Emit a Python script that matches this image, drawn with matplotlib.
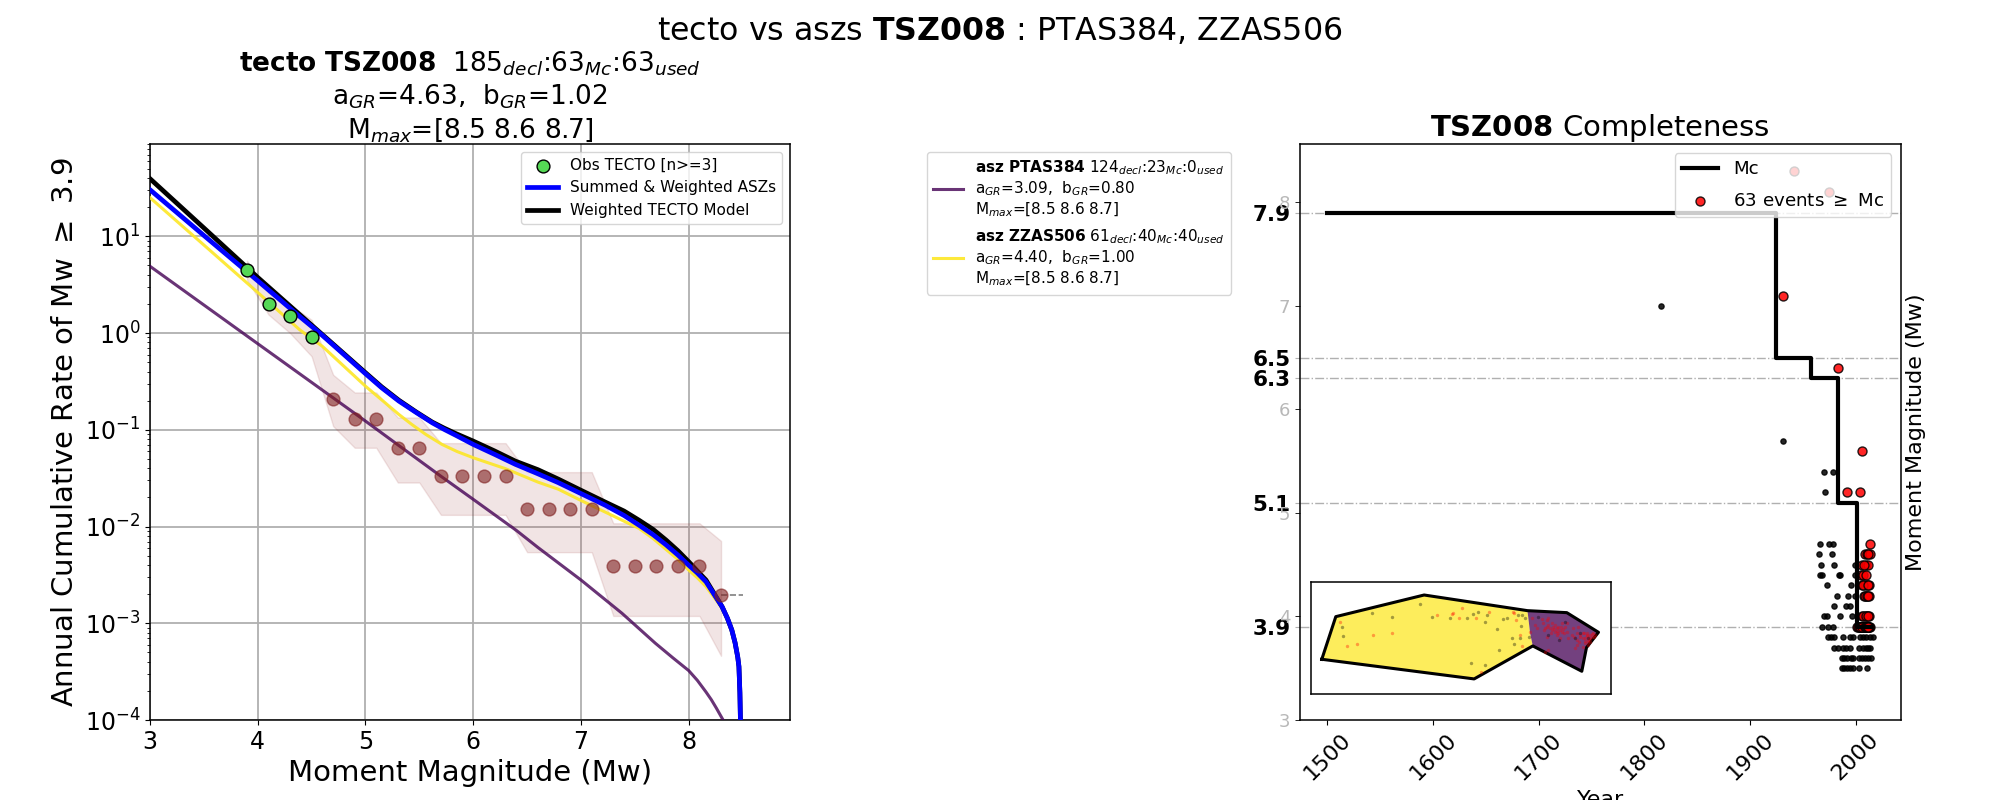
import matplotlib
matplotlib.use('Agg')
import matplotlib.pyplot as plt
from matplotlib.lines import Line2D

# --- left panel: magnitude frequency curves
purple_m = [3.0, 3.5, 4.0, 4.5, 5.0, 5.3, 5.7, 6.0, 6.4, 6.6, 7.0, 7.38, 7.69, 7.85, 8.0, 8.08, 8.16, 8.21, 8.256, 8.319]
purple_rate = [4.9, 1.95, 0.776, 0.309, 0.123, 0.07, 0.0331, 0.0191, 0.00912, 0.00608, 0.0028, 0.00127,
               0.000622, 0.000442, 0.000324, 0.000257, 0.000195, 0.000162, 0.000133, 0.0001]

yellow_m = [3.0, 3.5, 4.0, 4.39, 4.6, 5.0, 5.15, 5.31, 5.43, 5.56, 5.71, 5.85, 6.0, 6.3, 6.6, 6.79, 7.0, 7.225, 7.4,
            7.54, 7.67, 7.79, 7.9, 8.0, 8.08, 8.16, 8.31]
yellow_rate = [25.1, 8.13, 2.63, 1.08, 0.729, 0.282, 0.204, 0.144, 0.1135, 0.0895, 0.0706, 0.0596, 0.0514, 0.0396,
               0.0288, 0.0243, 0.0186, 0.0141, 0.01135, 0.00955, 0.0075, 0.00579, 0.00457, 0.00355, 0.00295, 0.0024,
               0.00143]

model_m = [3.0, 3.5, 4.0, 4.39, 4.575, 5.0, 5.15, 5.31, 5.47, 5.62, 5.73, 5.84, 6.0, 6.2, 6.39, 6.6, 6.79, 7.0, 7.225,
           7.4, 7.54, 7.67, 7.79, 7.9, 8.0, 8.08, 8.16, 8.31, 8.36, 8.4, 8.43, 8.455, 8.466, 8.475, 8.48]
blue_rate = [30.3, 10.2, 3.47, 1.48, 1.0, 0.38, 0.272, 0.198, 0.151, 0.118, 0.101, 0.0875, 0.0706, 0.0556, 0.044,
             0.0351, 0.0284, 0.0219, 0.0166, 0.013, 0.0103, 0.00822, 0.00646, 0.00507, 0.00398, 0.00331, 0.00269,
             0.00148, 0.00112, 0.000851, 0.00063, 0.000447, 0.000357, 0.000191, 0.0001]
black_rate = [39.4, 12.2, 3.76, 1.55, 1.02, 0.389, 0.278, 0.202, 0.153, 0.12, 0.104, 0.0912, 0.0764, 0.0603, 0.0475,
              0.0387, 0.0309, 0.0237, 0.0179, 0.01445, 0.0116, 0.00933, 0.00724, 0.00562, 0.00433, 0.00347, 0.0028,
              0.00148, 0.00112, 0.000851, 0.00063, 0.000447, 0.000357, 0.000191, 0.0001]

obs_m = [3.9, 4.1, 4.3, 4.5]
obs_rate = [4.48, 2.0, 1.5, 0.91]
used_m = [4.7, 4.9, 5.1, 5.3, 5.5, 5.7, 5.9, 6.1, 6.3, 6.5, 6.7, 6.9, 7.1, 7.3, 7.5, 7.7, 7.9, 8.1, 8.3]
used_rate = [0.207, 0.129, 0.129, 0.0646, 0.0646, 0.0329, 0.0329, 0.0329, 0.0329, 0.0151, 0.0151, 0.0151, 0.0151,
             0.0039, 0.0039, 0.0039, 0.0039, 0.0039, 0.00195]

band_m = [3.9, 4.1, 4.3, 4.5] + used_m
band_hi = [5.6, 2.6, 1.96, 1.37, 0.37, 0.243, 0.243, 0.134, 0.134, 0.0728, 0.0728, 0.0728, 0.0728,
           0.0365, 0.0365, 0.0365, 0.0365, 0.0108, 0.0108, 0.0108, 0.0108, 0.0108, 0.0071]
band_lo = [3.55, 1.55, 1.0, 0.575, 0.109, 0.0652, 0.0652, 0.0285, 0.0285, 0.0132, 0.0132, 0.0132, 0.0132,
           0.00543, 0.00543, 0.00543, 0.00543, 0.00119, 0.00119, 0.00119, 0.00119, 0.00119, 0.00046]

# --- right panel: catalogue vs completeness
mc_year = [1500, 1925, 1958, 1983, 2001, 2015]
mc_mag = [7.9, 6.5, 6.3, 5.1, 3.9, 3.9]
mc_levels = [3.9, 5.1, 6.3, 6.5, 7.9]
int_mags = [3, 4, 5, 6, 7, 8]
year_ticks = [1500, 1600, 1700, 1800, 1900, 2000]

black_year = [1816, 1931, 1970, 1979, 1971, 1966, 1975, 1979, 1965, 1978, 1967, 1980, 1999, 1966, 1968, 1984, 1985, 1999,
              1973, 1996, 1982, 1993, 1999, 1980, 1991, 1995, 1970, 1973, 1985, 1997, 1968, 1974, 1979,
              1974, 1977, 1980, 1988, 1995, 1998, 2004, 2007, 2010, 2014, 2016,
              1980, 1983, 1988, 1991, 1995, 2003, 2007, 2010, 2012, 2014,
              1987, 1989, 1992, 1996, 1998, 2003, 2006, 2009, 2012, 2015,
              1987, 1989, 1992, 1995, 1998, 2003, 2011]
black_mag = [7.0, 5.7, 5.4, 5.4, 5.2, 4.7, 4.7, 4.7, 4.6, 4.6, 4.5, 4.5, 4.5, 4.4, 4.4, 4.4, 4.4, 4.4,
             4.3, 4.3, 4.2, 4.2, 4.2, 4.1, 4.1, 4.1, 4.0, 4.0, 4.0, 4.0, 3.9, 3.9, 3.9,
             3.8, 3.8, 3.8, 3.8, 3.8, 3.8, 3.8, 3.8, 3.8, 3.8, 3.8,
             3.7, 3.7, 3.7, 3.7, 3.7, 3.7, 3.7, 3.7, 3.7, 3.7,
             3.6, 3.6, 3.6, 3.6, 3.6, 3.6, 3.6, 3.6, 3.6, 3.6,
             3.5, 3.5, 3.5, 3.5, 3.5, 3.5, 3.5]

red_year = [1942, 1975, 1931, 1983, 2006, 1992, 2004, 2014, 2009, 2011, 2014, 2012, 2006, 2010, 2012, 2008, 2005, 2007, 2010,
            2006, 2009, 2011, 2013, 2007, 2012, 2008, 2010, 2013, 2009, 2011, 2012, 2006, 2009, 2011, 2013, 2007, 2010, 2012,
            2001, 2004, 2007, 2010, 2012, 2014, 2002, 2003, 2005, 2006, 2008, 2009, 2011, 2013, 2005, 2008, 2011, 2013, 2004,
            2006, 2009, 2012, 2010, 2011, 2012]
red_mag = [8.3, 8.1, 7.1, 6.4, 5.6, 5.2, 5.2, 4.7, 4.6, 4.6, 4.6, 4.6, 4.5, 4.5, 4.5, 4.5, 4.4, 4.4, 4.4,
           4.3, 4.3, 4.3, 4.3, 4.3, 4.3, 4.2, 4.2, 4.2, 4.2, 4.2, 4.2, 4.0, 4.0, 4.0, 4.0, 4.0, 4.0, 4.0,
           3.9, 3.9, 3.9, 3.9, 3.9, 3.9, 3.9, 3.9, 3.9, 3.9, 3.9, 3.9, 3.9, 3.9, 3.9, 3.9, 3.9, 3.9, 3.9,
           3.9, 3.9, 3.9, 3.9, 3.9, 3.9]

# --- inset map (plain map units, y pointing down)
zone_a_x = [95, 137, 402, 712, 720, 728, 552]
zone_a_y = [268, 140, 75, 122, 190, 228, 327]
zone_b_x = [712, 830, 925, 889, 875, 728, 720]
zone_b_y = [122, 128, 187, 233, 304, 228, 190]
outline_x = [95, 137, 402, 712, 830, 925, 889, 875, 728, 552, 95]
outline_y = [268, 140, 75, 122, 128, 187, 233, 304, 228, 327, 268]
quake_red_x = [151, 440, 487, 490, 517, 508, 558, 597, 670, 678, 248, 307, 172, 202, 572, 690, 720, 697, 672,
               757, 770, 775, 735, 742, 760, 770, 780, 790, 800, 810, 820, 830, 795, 805, 770, 810, 835, 850, 865,
               880, 890, 900, 905, 895, 885, 860, 855, 880, 775, 765, 830, 725, 815, 845, 870, 860, 910, 915, 895,
               885, 900, 765, 775, 785, 795, 805, 815, 825, 762, 782, 792, 802, 812, 822, 800, 786, 890, 897, 905,
               912, 900, 893, 885, 878, 870, 882, 892, 860, 868, 852]
quake_red_y = [155, 136, 132, 128, 115, 145, 145, 127, 125, 150, 196, 190, 228, 222, 307, 195, 185, 228, 130,
               148, 150, 145, 165, 175, 160, 170, 175, 170, 175, 180, 178, 185, 185, 190, 200, 205, 205, 175, 170,
               190, 195, 195, 200, 210, 218, 225, 235, 230, 240, 245, 160, 145, 160, 195, 195, 190, 190, 195, 225,
               205, 215, 175, 165, 180, 165, 170, 185, 170, 180, 190, 178, 182, 172, 190, 195, 158, 198, 205, 192,
               200, 208, 215, 212, 205, 200, 190, 188, 210, 215, 200]
quake_dark_x = [390, 245, 305, 155, 160, 425, 480, 550, 565, 530, 585, 590, 640, 652, 620, 685, 697, 705, 692, 665, 690,
                718, 672, 628, 542, 586, 825, 775, 808, 870, 855, 895, 745]
quake_dark_y = [103, 130, 140, 170, 198, 142, 145, 133, 125, 145, 157, 135, 147, 145, 178, 135, 136, 143, 168, 205, 205,
                200, 222, 240, 280, 286, 157, 195, 210, 190, 205, 205, 140]

fig = plt.figure(figsize=(20, 8), dpi=100)
fig.suptitle(r"tecto vs aszs $\bf{TSZ008}$ : PTAS384, ZZAS506", fontsize=22.8, y=0.961, va='center')

# left panel
ax1 = fig.add_axes([0.075, 0.10, 0.32, 0.72])
ax1.fill_between(band_m, band_lo, band_hi, color='#993333', alpha=0.13, zorder=1)
ax1.plot(purple_m, purple_rate, color='#440154', alpha=0.8, lw=2.2, zorder=3)
ax1.plot(yellow_m, yellow_rate, color='#fde725', alpha=0.9, lw=2.2, zorder=3)
ax1.plot(model_m, black_rate, color='black', lw=3.4, zorder=4, label='Weighted TECTO Model')
ax1.plot(model_m, blue_rate, color='blue', lw=3.4, zorder=4, label='Summed & Weighted ASZs')
ax1.plot([8.3, 8.5], [used_rate[-1], used_rate[-1]], color='gray', ls='--', lw=1.2, zorder=2)
ax1.scatter(used_m, used_rate, s=85, color='#7f1f1f', alpha=0.6, zorder=5)
ax1.scatter(obs_m, obs_rate, s=85, color='#55d855', edgecolor='black', zorder=6, label='Obs TECTO [n>=3]')
ax1.set_yscale('log')
ax1.set_xlim(3, 8.94)
ax1.set_ylim(1e-4, 90)
ax1.grid(True, which='major', color='#b0b0b0', lw=1.3)
ax1.set_axisbelow(True)
ax1.tick_params(axis='both', which='major', labelsize=17)
ax1.set_xticks([3, 4, 5, 6, 7, 8])
ax1.set_xlabel("Moment Magnitude (Mw)", fontsize=21)
ax1.set_ylabel(r"Annual Cumulative Rate of Mw $\geq$ 3.9", fontsize=21)
ax1.set_title(r"$\bf{tecto\ TSZ008}$  185$_{decl}$:63$_{Mc}$:63$_{used}$" + "\n"
              + r"a$_{GR}$=4.63,  b$_{GR}$=1.02" + "\n" + r"M$_{max}$=[8.5 8.6 8.7]", fontsize=19, pad=5)
handles, labels = ax1.get_legend_handles_labels()
ax1.legend([handles[2], handles[1], handles[0]], [labels[2], labels[1], labels[0]], loc='upper right', fontsize=11)

# model legend sits between the panels
asz_handles = [Line2D([], [], color='#440154', alpha=0.8, lw=2.2), Line2D([], [], color='#fde725', alpha=0.9, lw=2.2)]
asz_labels = [r"$\bf{asz\ PTAS384}$ 124$_{decl}$:23$_{Mc}$:0$_{used}$" + "\n"
              + r"a$_{GR}$=3.09,  b$_{GR}$=0.80" + "\n" + r"M$_{max}$=[8.5 8.6 8.7]",
              r"$\bf{asz\ ZZAS506}$ 61$_{decl}$:40$_{Mc}$:40$_{used}$" + "\n"
              + r"a$_{GR}$=4.40,  b$_{GR}$=1.00" + "\n" + r"M$_{max}$=[8.5 8.6 8.7]"]
fig.legend(asz_handles, asz_labels, loc='upper left', bbox_to_anchor=(0.4633, 0.81), borderaxespad=0, fontsize=11)

# right panel
ax2 = fig.add_axes([0.65, 0.10, 0.3003, 0.72])
ax2.scatter(black_year, black_mag, s=14, color='black', alpha=0.85, zorder=3)
ax2.scatter(red_year, red_mag, s=42, color='red', edgecolor='black', alpha=0.85, zorder=3,
            label=str(len(red_year)) + r" events $\geq$ Mc")
ax2.plot(mc_year, mc_mag, drawstyle='steps-post', color='black', lw=3, zorder=4, label='Mc')
ax2.set_xlim(1474, 2042.6)
ax2.set_ylim(3, 8.565)
ax2.set_xticks(year_ticks)
ax2.set_xticklabels(year_ticks, rotation=45, fontsize=16)
ax2.set_yticks(mc_levels, [str(m) for m in mc_levels], fontweight='bold', fontsize=15.5)
ax2.set_yticks(int_mags, [str(m) for m in int_mags], minor=True, fontsize=13, color='#b8b8b8')
ax2.tick_params(axis='y', which='major', length=3.5, color='#b0b0b0')
ax2.tick_params(axis='y', which='minor', length=3.5, labelleft=True)
ax2.grid(True, axis='y', which='major', color='#b0b0b0', ls='-.', lw=1)
ax2.set_axisbelow(True)
ax2.set_xlabel("Year", fontsize=16)
ax2.set_ylabel("Moment Magnitude (Mw)", fontsize=16)
ax2.yaxis.set_label_position('right')
ax2.set_title(r"$\bf{TSZ008}$ Completeness", fontsize=21, pad=6)
h2, l2 = ax2.get_legend_handles_labels()
ax2.legend([h2[1], h2[0]], [l2[1], l2[0]], loc='upper right', fontsize=13.15, labelspacing=0.72)

# inset map
ax3 = fig.add_axes([0.6554, 0.1322, 0.15, 0.1407], zorder=5)
ax3.fill(zone_a_x, zone_a_y, facecolor='#fde725', alpha=0.75, edgecolor='none')
ax3.fill(zone_b_x, zone_b_y, facecolor='#440154', alpha=0.75, edgecolor='none')
ax3.plot(outline_x, outline_y, color='black', lw=2.2)
ax3.scatter(quake_red_x, quake_red_y, s=6, color='red', alpha=0.35, linewidths=0, zorder=3)
ax3.scatter(quake_dark_x, quake_dark_y, s=6, color='black', alpha=0.35, linewidths=0, zorder=3)
ax3.set_xlim(62, 962)
ax3.set_ylim(373, 35)
ax3.set_xticks([])
ax3.set_yticks([])

for ax in [ax1, ax2, ax3]:
    for spine in ax.spines.values():
        spine.set_linewidth(1.1)

fig.savefig('out.png')
